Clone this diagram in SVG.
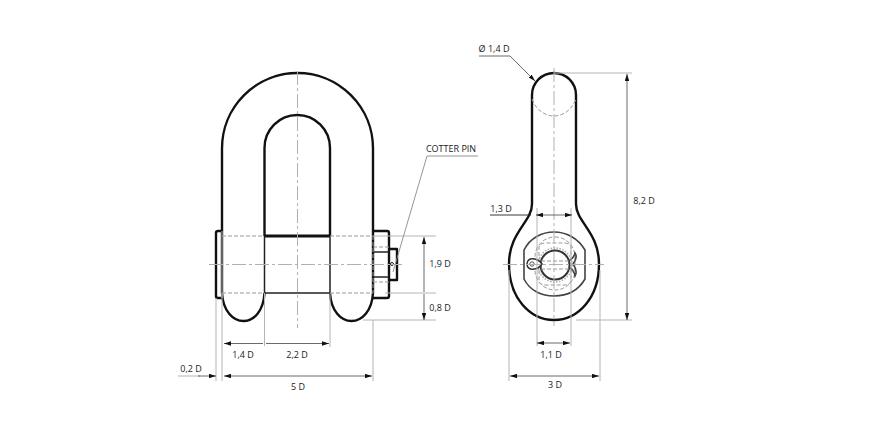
<svg xmlns="http://www.w3.org/2000/svg" width="870" height="429" viewBox="0 0 870 429">
<defs>
<marker id="a" viewBox="0 0 7 4.400" refX="7" refY="2.200" markerWidth="7" markerHeight="4.400" markerUnits="userSpaceOnUse" orient="auto-start-reverse"><path d="M0 0L7 2.200L0 4.400Z" fill="#111"/></marker>
</defs>
<style>
.o{fill:none;stroke:#111;stroke-width:2.400;stroke-linejoin:round}
.m{fill:none;stroke:#222;stroke-width:1.500}
.g{fill:none;stroke:#444;stroke-width:1.600}
.e{fill:none;stroke:#b4b4b4;stroke-width:1}
.c{fill:none;stroke:#b0b0b0;stroke-width:1;stroke-dasharray:14 3 3 3}
.h{fill:none;stroke:#999;stroke-width:1;stroke-dasharray:4 2}
.d{fill:none;stroke:#444;stroke-width:.8;marker-start:url(#a);marker-end:url(#a)}
.f{fill:none;stroke:#444;stroke-width:.8;marker-end:url(#a)}
.l{fill:none;stroke:#222;stroke-width:.9}
.p{fill:none;stroke:#8a8a8a;stroke-width:.9}
text{font-family:"Open Sans","Liberation Sans",sans-serif;font-size:9px;fill:#1a1a1a;text-anchor:middle}
</style>
<rect width="870" height="429" fill="#fff"/>
<g id="front-view">
<path class="o" d="M222 293V148.500A75.500 75.500 0 0 1 373 148.500V293"/>
<path class="o" d="M264.500 236V148A32.750 33 0 0 1 330 148V236"/>
<path class="o" d="M264.500 236H330" style="stroke-width:2.800"/>
<path class="m" d="M264.500 236V293H330V236"/>
<path class="o" d="M222 293C223 311 233 321 243.500 321C254 321 263.500 311 264.500 293"/>
<path class="o" d="M330 293C331 311 341 321 351.500 321C362 321 372 311 373 293"/>
<path class="h" d="M222 236H264M330 236H373M222 293H264M330 293H373"/>
<path class="o" d="M222 231H218Q216 231 216 233V296Q216 298 218 298H222"/>
<path class="e" d="M222 231V298"/>
<path class="o" d="M373 231H387Q389 231 389 233V296Q389 298 387 298H373"/>
<path class="m" d="M373 252H389M373 277H389"/>
<path class="h" d="M373 247H389M373 282H389M373 236V293"/>
<path class="o" d="M390 249H397V280H390"/>
<circle cx="392" cy="264" r="1.500" fill="none" stroke="#222"/>
</g>
<g id="side-view">
<path class="o" d="M532 204V95A22 22 0 0 1 576 95V204C576 222 599 232 599 264C599 298 578 320 554 320C530 320 509 298 509 264C509 232 532 222 532 204Z"/>
<path class="h" d="M532 99C536 110 545 116 554 116C563 116 572 110 576 99"/>
<path class="g" d="M524 250C530 238 542 232 554 232C566 232 578 238 585 250V279C578 291 566 296 554 296C542 296 530 291 524 279Z"/>
<rect class="h" x="535" y="237" width="40" height="53" rx="20"/>
<path class="h" d="M539 262V248Q539 243 546 243H564Q571 243 571 248V280Q571 285 564 285H546Q539 285 539 280Z"/>
<circle cx="555" cy="265" r="17" fill="none" stroke="#aaa" stroke-width="1.500" stroke-dasharray="1.500 1.500"/>
<circle cx="555" cy="265" r="14.500" fill="#fff" stroke="#333" stroke-width="2"/>
<path class="h" d="M541 261H569M541 269H569"/>
<path d="M542 264C538 258 527 256 527 264C527 272 538 270 542 264Z" fill="#fff" stroke="#333" stroke-width="1.500"/>
<circle cx="532" cy="264" r="2.200" fill="none" stroke="#555" stroke-width="1"/>
<path class="g" d="M569 261Q574 258 575 253Q578 257 573 264Q578 271 575 276Q574 270 569 267"/>
</g>
<g id="connectors">
<path class="c" d="M297.500 71V328"/>
<path class="c" d="M209 264.500H402"/>
<path class="c" d="M554 68V326"/>
<path class="c" d="M503 264.500H604"/>
<path class="e" d="M216 298V381M222 293V381M264.500 293V346M330 293V347M373 320V381"/>
<path class="e" d="M373 236H436M385 293H436M363 320H436"/>
<path class="d" d="M224 343.500H263M266 343.500H329"/>
<path class="d" d="M224 376H372"/>
<path class="e" d="M178 376H200"/>
<path class="f" d="M198 376H216"/>
<path class="d" d="M424 237V292M424 294V320"/>
<path class="p" d="M393 272L427 156H478"/>
<path class="e" d="M554 73H632M576 320H632"/>
<path class="d" d="M627 74V320"/>
<path class="e" d="M537 208V346M571 208V346M509 270V381M600 270V381"/>
<path class="d" d="M536 215H572"/>
<path class="l" d="M490 215H531"/>
<path class="d" d="M537 343H570"/>
<path class="d" d="M510 376H599"/>
<path class="f" d="M479 56H510L535 81"/>
</g>
<g id="labels">
<text x="243" y="358">1,4 D</text>
<text x="297" y="358">2,2 D</text>
<text x="191" y="372">0,2 D</text>
<text x="298" y="390">5 D</text>
<text x="440" y="267">1,9 D</text>
<text x="440" y="311">0,8 D</text>
<text x="451" y="152">COTTER PIN</text>
<text x="494" y="52">Ø 1,4 D</text>
<text x="501" y="212">1,3 D</text>
<text x="644" y="204">8,2 D</text>
<text x="551" y="358">1,1 D</text>
<text x="555" y="388">3 D</text>
</g>
</svg>
